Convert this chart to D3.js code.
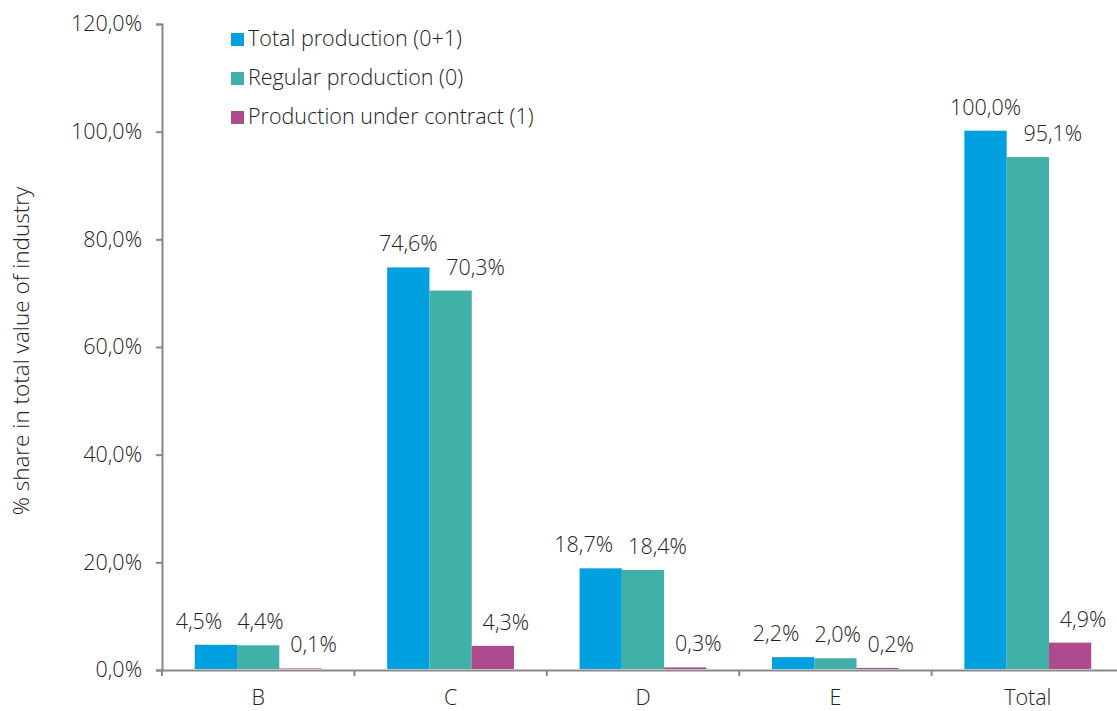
<!DOCTYPE html>
<html>
<head>
<meta charset="utf-8">
<script src="https://cdn.jsdelivr.net/npm/d3@7"></script>
<style>
  body { margin: 0; background: #fff; }
  svg text { font-family: "Open Sans", sans-serif; font-weight: 300; fill: #222; }
</style>
</head>
<body>
<div id="chart"></div>
<script>
// Share of production in total value of industry

const categories = ["B", "C", "D", "E", "Total"];
const seriesNames = ["Total production (0+1)", "Regular production (0)", "Production under contract (1)"];
const totalProd = [4.5, 74.6, 18.7, 2.2, 100.0];
const regularProd = [4.4, 70.3, 18.4, 2.0, 95.1];
const contractProd = [0.1, 4.3, 0.3, 0.2, 4.9];
const yTicks = [0, 20, 40, 60, 80, 100, 120];
const colors = ["#009fe0", "#41b0a8", "#ae4b8f"];

const series = [totalProd, regularProd, contractProd];

const width = 1117, height = 711;
const margin = {top: 24, right: -7, bottom: 41, left: 162};
const fontSize = "21.5px";

const svg = d3.select("#chart").append("svg")
    .attr("width", width)
    .attr("height", height);

const x = d3.scaleBand()
    .domain(categories)
    .range([margin.left, width - margin.right])
    .paddingInner(0)
    .paddingOuter(0);

// 3 bars of ~42px inside each ~192px category slot
const xs = d3.scaleBand()
    .domain(d3.range(series.length))
    .range([0, x.bandwidth()])
    .paddingInner(0)
    .paddingOuter(0.775);

const y = d3.scaleLinear()
    .domain([0, 120])
    .range([height - margin.bottom, margin.top]);

const fmt = v => d3.format(".1f")(v).replace(".", ",") + "%";

// axes
const axisColor = "#888";
const yAxis = svg.append("g")
    .attr("transform", "translate(" + margin.left + ",0)")
    .call(d3.axisLeft(y).tickValues(yTicks).tickFormat(fmt).tickSize(6).tickPadding(14));
const xAxis = svg.append("g")
    .attr("transform", "translate(0," + y(0) + ")")
    .call(d3.axisBottom(x).tickSize(0).tickPadding(20));

// x ticks at category boundaries
xAxis.selectAll(".bound")
    .data(categories)
    .enter().append("line")
    .attr("x1", d => x(d)).attr("x2", d => x(d))
    .attr("y1", 0).attr("y2", 6)
    .attr("stroke", axisColor).attr("stroke-width", 2);

[yAxis, xAxis].forEach(a => {
    a.select(".domain").attr("stroke", axisColor).attr("stroke-width", 2);
    a.selectAll(".tick line").attr("stroke", axisColor).attr("stroke-width", 2);
    a.selectAll(".tick text").style("font-size", fontSize).attr("fill", "#222");
});

// bars (drawn over the baseline so the tiny values still show)
categories.forEach((c, ci) => {
    series.forEach((s, si) => {
	svg.append("rect")
	    .attr("x", x(c) + xs(si))
	    .attr("y", y(s[ci]) - 1)
	    .attr("width", xs.bandwidth())
	    .attr("height", y(0) - y(s[ci]))
	    .attr("fill", colors[si]);
    });
});

// data labels, nudged apart the way they sit in the original
categories.forEach((c, ci) => {
    const tops = series.map(s => y(s[ci]));
    const clash = Math.abs(tops[0] - tops[1]) < 10;
    const dx = [clash ? -17 : 0, clash ? 0 : 25, 13];
    const labels = series.map((s, si) => svg.append("text")
	.attr("x", x(c) + xs(si) + xs.bandwidth() / 2 + dx[si])
	.attr("y", tops[si] - 17)
	.attr("text-anchor", "middle")
	.style("font-size", fontSize)
	.text(fmt(s[ci])));
    if (clash) {
	// keep at least ~15px between the first two labels
	const w0 = labels[0].node().getComputedTextLength();
	const w1 = labels[1].node().getComputedTextLength();
	const x0 = +labels[0].attr("x"), x1 = +labels[1].attr("x");
	const need = (x0 + w0 / 2 + 15) - (x1 - w1 / 2);
	if (need > 0) labels[1].attr("x", x1 + need);
    }
});

// y axis title
svg.append("text")
    .attr("transform", "translate(29,351) rotate(-90)")
    .attr("text-anchor", "middle")
    .style("font-size", "22.5px")
    .text("% share in total value of industry");

// legend
const legend = svg.append("g").attr("transform", "translate(231,33)");
seriesNames.forEach((n, i) => {
    const row = legend.append("g").attr("transform", "translate(0," + (i * 39) + ")");
    row.append("rect").attr("width", 13).attr("height", 13).attr("fill", colors[i]);
    row.append("text").attr("x", 17).attr("y", 13).style("font-size", fontSize).text(n);
});
</script>
</body>
</html>
